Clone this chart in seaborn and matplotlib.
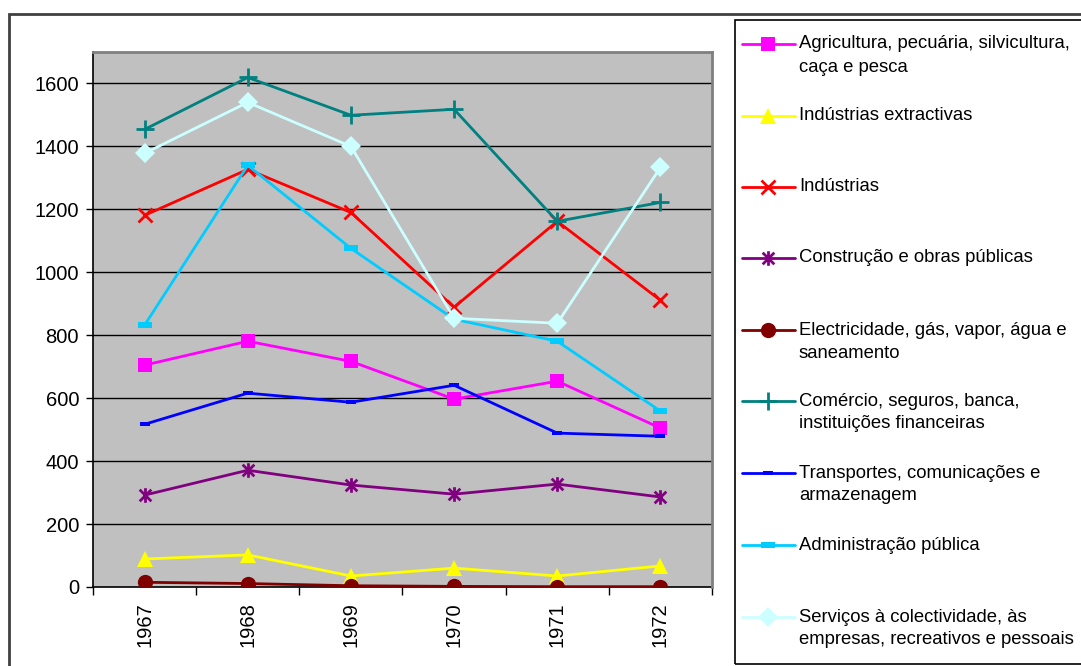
import matplotlib
matplotlib.use("Agg")
import matplotlib.pyplot as plt
from matplotlib.lines import Line2D
from matplotlib.patches import Rectangle
from matplotlib.path import Path
from matplotlib.ticker import FixedLocator
import pandas as pd
import seaborn as sns

# ---- data -------------------------------------------------------------
years = ["1967", "1968", "1969", "1970", "1971", "1972"]

agricultura = [705, 781, 717, 597, 654, 505]
extractivas = [89, 102, 35, 60, 35, 67]
industrias = [1181, 1327, 1190, 889, 1162, 911]
construcao = [292, 371, 324, 295, 327, 286]
electricidade = [15, 11, 4, 2, 1, 1]
comercio = [1454, 1619, 1499, 1518, 1162, 1222]
transportes = [517, 616, 587, 641, 489, 479]
administracao = [832, 1340, 1076, 851, 781, 559]
servicos = [1378, 1540, 1400, 854, 838, 1333]

legend_labels = [
    ["Agricultura, pecuária, silvicultura,", "caça e pesca"],
    ["Indústrias extractivas"],
    ["Indústrias"],
    ["Construção e obras públicas"],
    ["Electricidade, gás, vapor, água e", "saneamento"],
    ["Comércio, seguros, banca,", "instituições financeiras"],
    ["Transportes, comunicações e", "armazenagem"],
    ["Administração pública"],
    ["Serviços à colectividade, às", "empresas, recreativos e pessoais"],
]
y_ticks = [0, 200, 400, 600, 800, 1000, 1200, 1400, 1600]

# ---- styles -----------------------------------------------------------
asterisk = Path([(-1, -1), (1, 1), (-1, 1), (1, -1), (0, -1.25), (0, 1.25)],
                [Path.MOVETO, Path.LINETO, Path.MOVETO, Path.LINETO,
                 Path.MOVETO, Path.LINETO])
dash = [(-1, -0.45), (1, -0.45), (1, 0.45), (-1, 0.45), (-1, -0.45)]

styles = [
    dict(color="#FF00FF", marker="s", ms=10.5, mew=0),
    dict(color="#FFFF00", marker="^", ms=12, mew=0),
    dict(color="#FF0000", marker="x", ms=10, mew=2),
    dict(color="#800080", marker=asterisk, ms=10.5, mew=2),
    dict(color="#800000", marker="o", ms=11, mew=0),
    dict(color="#008080", marker="+", ms=12.5, mew=2),
    dict(color="#0000FF", marker=dash, ms=7.5, mew=0),
    dict(color="#00CCFF", marker=dash, ms=9.5, mew=0),
    dict(color="#CCFFFF", marker="D", ms=10, mew=0),
]

series = [agricultura, extractivas, industrias, construcao, electricidade,
          comercio, transportes, administracao, servicos]
names = [" ".join(lbl) for lbl in legend_labels]

frames = [pd.DataFrame({"ano": years, "valor": vals, "sector": name})
          for name, vals in zip(names, series)]
df = pd.concat(frames, ignore_index=True)

# ---- figure -----------------------------------------------------------
sns.set_theme(style="white")
plt.rcParams["font.family"] = ["Liberation Sans", "DejaVu Sans"]

W, H = 1081, 666
fig = plt.figure(figsize=(W / 100, H / 100), dpi=100)
fig.patch.set_facecolor("white")
ax = fig.add_axes([93 / W, 1 - 587 / H, (712 - 93) / W, (587 - 52) / H])
ax.set_facecolor("#C0C0C0")

for i, name in enumerate(names):
    st = styles[i]
    sub = df[df["sector"] == name]
    sns.lineplot(data=sub, x="ano", y="valor", ax=ax, color=st["color"],
                 lw=2, marker=st["marker"], markersize=st["ms"],
                 markeredgewidth=st["mew"], markeredgecolor=st["color"],
                 markerfacecolor=st["color"], legend=False, zorder=3 + i,
                 sort=False)

ax.set_xlim(-0.5, len(years) - 0.5)
ax.set_ylim(0, 1700)
ax.set_yticks(y_ticks)
ax.set_yticklabels([str(v) for v in y_ticks], fontsize=14.5, color="black")
ax.set_xticks(range(len(years)))
ax.set_xticklabels(years, rotation=90, fontsize=14.5, color="black")
ax.xaxis.set_minor_locator(FixedLocator([k - 0.5 for k in range(len(years) + 1)]))
ax.tick_params(axis="x", which="major", length=0, pad=11)
ax.tick_params(axis="x", which="minor", length=6, width=1, color="black",
               direction="out", bottom=True)
ax.tick_params(axis="y", which="major", length=5, width=1, color="black",
               direction="out", left=True, pad=5)
ax.set_xlabel("")
ax.set_ylabel("")

ax.grid(False)
for v in y_ticks[1:]:
    ax.axhline(v, color="black", lw=1, zorder=1)

for side in ("top", "right"):
    ax.spines[side].set_color("#808080")
    ax.spines[side].set_linewidth(2)
for side in ("left", "bottom"):
    ax.spines[side].set_color("black")
    ax.spines[side].set_linewidth(1.2)
ax.spines["bottom"].set_zorder(2)

# ---- outer chart frame ------------------------------------------------
fig.add_artist(Rectangle((9 / W, -0.05), 1.2, 1 - 14 / H + 0.05,
                         transform=fig.transFigure, fill=False,
                         edgecolor="#404040", lw=2))

# ---- legend box -------------------------------------------------------
fig.add_artist(Rectangle((735 / W, 2 / H), 1.1, (664 - 20) / H,
                         transform=fig.transFigure, fill=False,
                         edgecolor="black", lw=1.2))

row_y = [44, 116, 187, 258, 330, 401, 473, 545, 617]
for i, lines in enumerate(legend_labels):
    st = styles[i]
    yf = 1 - row_y[i] / H
    fig.add_artist(Line2D([742 / W, 795 / W], [yf, yf], transform=fig.transFigure,
                          color=st["color"], lw=2))
    fig.add_artist(Line2D([768 / W], [yf], transform=fig.transFigure,
                          color=st["color"], lw=0, marker=st["marker"],
                          markersize=st["ms"], markeredgewidth=st["mew"],
                          markeredgecolor=st["color"], markerfacecolor=st["color"]))
    for j, txt in enumerate(lines):
        fig.text(799 / W, 1 - (row_y[i] + 23 * j) / H, txt, fontsize=13.3,
                 color="black", va="center", ha="left")

fig.savefig("out.png", dpi=100, facecolor="white")
